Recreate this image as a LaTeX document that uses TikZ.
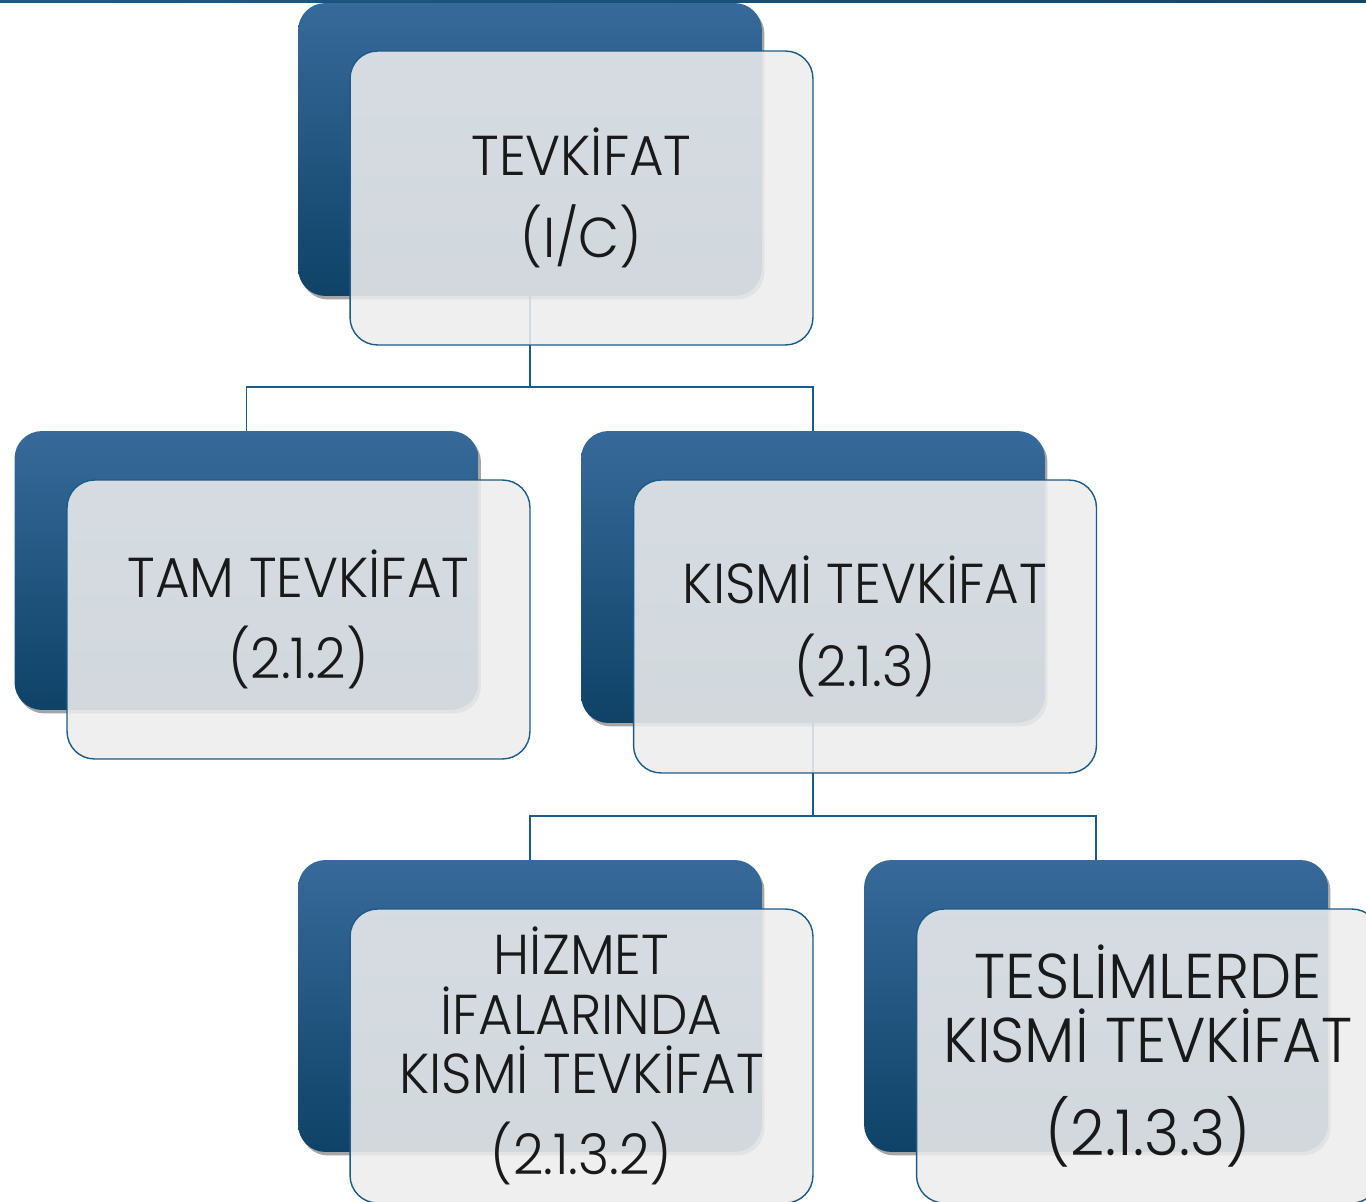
\documentclass[tikz,border=0pt]{standalone}
\usepackage{fontspec}
\setmainfont{Poppins}[UprightFont=* Light, FakeStretch=0.945]
\usetikzlibrary{backgrounds,shadows}
\definecolor{darkblue}{HTML}{0F4266}
\definecolor{midblue}{HTML}{376A9A}
\definecolor{edgeblue}{HTML}{1D5A87}
\definecolor{paleback}{HTML}{EDEDED}
\tikzset{
  backbox/.style={rounded corners=0.55cm, top color=midblue, bottom color=darkblue,
    minimum width=9.28cm, inner sep=0pt,
    drop shadow={shadow xshift=0.05cm, shadow yshift=-0.07cm, opacity=0.35, fill=black}},
  frontbox/.style={rounded corners=0.55cm, fill=paleback, fill opacity=0.88, text opacity=1,
    draw=edgeblue, line width=0.8pt, minimum width=9.26cm, inner sep=0pt, align=center,
    text=black!90, font=\fontsize{32}{34}\selectfont},
  link/.style={draw=edgeblue, line width=1.1pt}
}
\begin{document}
\begin{tikzpicture}[x=0.02cm,y=-0.02cm]
  \useasboundingbox (0,0) rectangle (1366,1202);
  \clip (0,0) rectangle (1366,1202);
  \shade[left color=edgeblue, right color=darkblue!80!edgeblue] (0,0) rectangle (1366,2.5);

  % back boxes
  \node[backbox, minimum height=5.86cm] (topback) at (530,149.5) {};
  \node[backbox, minimum height=5.58cm] (tamback) at (246.5,570.5) {};
  \node[backbox, minimum height=5.84cm] (kismiback) at (813,577) {};
  \node[backbox, minimum height=5.84cm] (hizmetback) at (530,1006) {};
  \node[backbox, minimum height=5.84cm] (teslimback) at (1096,1006) {};

  % front boxes
  \node[frontbox, minimum height=5.88cm] (topfront) at (581.5,198) {TEVKİFAT\\[13pt](I/C)};
  \node[frontbox, minimum height=5.58cm] (tamfront) at (298.5,619.5) {TAM TEVKİFAT\\[12pt](2.1.2)};
  \node[frontbox, minimum height=5.86cm] (kismifront) at (865,626.5) {KISMİ TEVKİFAT\\[13pt](2.1.3)};
  \node[frontbox, minimum height=5.88cm] (hizmetfront) at (581.5,1056) {HİZMET\\İFALARINDA\\KISMİ TEVKİFAT\\[12pt](2.1.3.2)};
  \node[frontbox, minimum height=5.88cm, font=\fontsize{36}{36}\selectfont] (teslimfront) at (1148,1056)
    {TESLİMLERDE\\KISMİ TEVKİFAT\\[17pt](2.1.3.3)};

  % connectors
  \begin{scope}[on background layer]
    \draw[link] (topback.south) -- ++(0,91) coordinate (topsplit) -| (tamback.north);
    \draw[link] (topsplit) -| (kismiback.north);
    \draw[link] (kismiback.south) -- ++(0,93) coordinate (kismisplit) -| (hizmetback.north);
    \draw[link] (kismisplit) -| (teslimback.north);
  \end{scope}
\end{tikzpicture}
\end{document}
